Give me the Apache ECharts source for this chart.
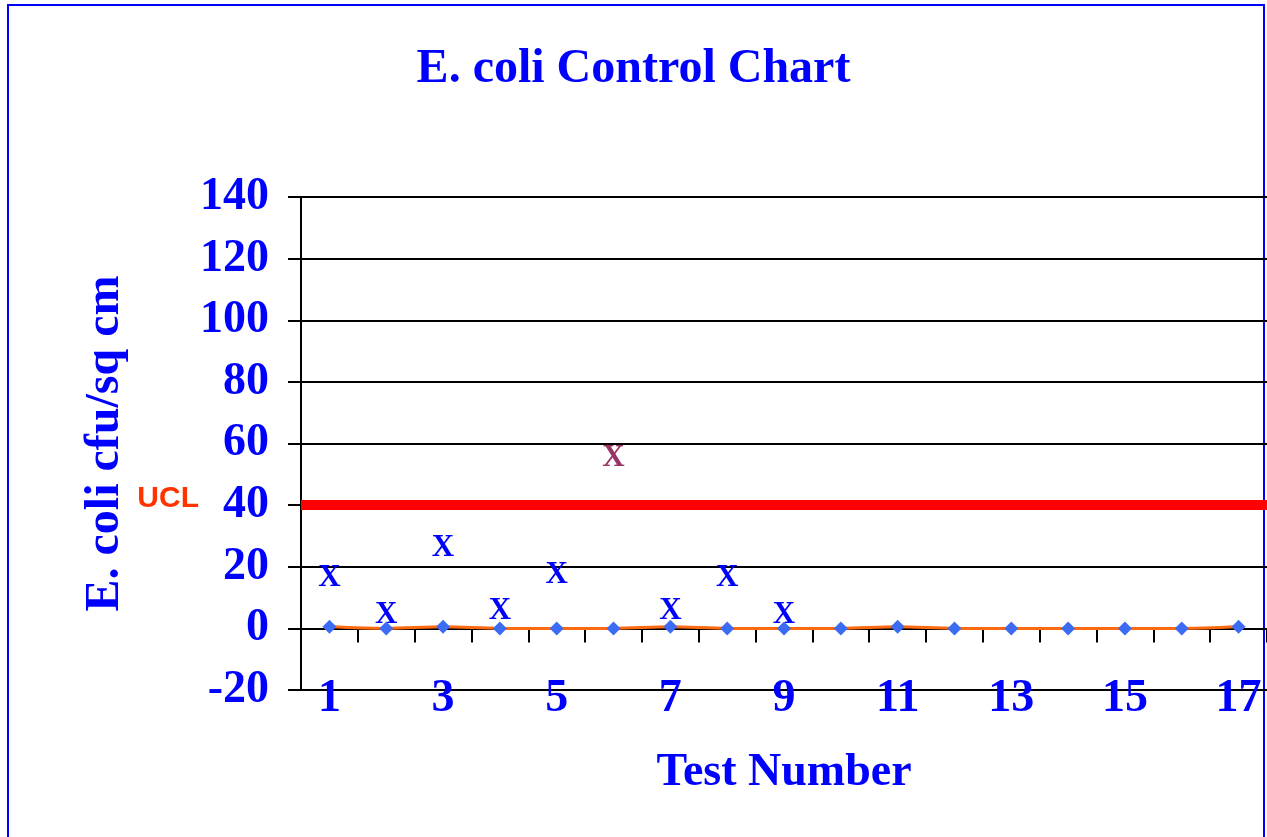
<!DOCTYPE html>
<html>
<head>
<meta charset="utf-8">
<title>E. coli Control Chart</title>
<script src="https://cdn.jsdelivr.net/npm/echarts@6/dist/echarts.min.js"></script>
<style>
  html, body { margin: 0; padding: 0; background: #fff; }
  #chart { width: 1267px; height: 837px; }
</style>
</head>
<body>
<div id="chart"></div>
<script>
// test numbers 1..17
const testNumbers = ['1', '2', '3', '4', '5', '6', '7', '8', '9', '10', '11', '12', '13', '14', '15', '16', '17']
// diamonds sitting on the zero line
const ecoliCounts = [0.5, 0, 0.5, 0, 0, 0, 0.5, 0, 0, 0, 0.5, 0, 0, 0, 0, 0, 0.5]
// "X" marks for the first nine tests
const xMarks = [16.5, 4.4, 26.2, 5.5, 17.4, 55.4, 5.5, 16.5, 4.4]
const uclValue = 40

const serif = '"Liberation Serif", "Times New Roman", serif'
const blue = '#0000ff'

const myChart = echarts.init(document.getElementById('chart'))

const option = {
  animation: false,
  title: {
    text: 'E. coli Control Chart',
    left: 'center',
    top: 46,
    padding: 0,
    textStyle: {
      color: blue,
      fontFamily: serif,
      fontWeight: 'bold',
      fontSize: 48
    }
  },
  graphic: [
    {
      type: 'rect',
      shape: { x: 8, y: 5, width: 1256, height: 850 },
      style: { fill: 'none', stroke: blue, lineWidth: 2 },
      silent: true,
      z: -1
    }
  ],
  grid: {
    left: 301,
    top: 197,
    width: 966,
    height: 493,
    containLabel: false,
    outerBoundsMode: 'none'
  },
  xAxis: {
    type: 'category',
    data: testNumbers,
    boundaryGap: true,
    name: 'Test Number',
    nameLocation: 'middle',
    nameGap: 60,
    nameTextStyle: {
      color: blue,
      fontFamily: serif,
      fontWeight: 'bold',
      fontSize: 46
    },
    axisLine: { onZero: true, lineStyle: { color: '#000', width: 2 } },
    axisTick: { show: true, interval: 0, length: 14, lineStyle: { color: '#000', width: 2 } },
    axisLabel: {
      interval: 1,
      margin: -14,
      color: blue,
      fontFamily: serif,
      fontWeight: 'bold',
      fontSize: 46
    },
    splitLine: { show: false }
  },
  yAxis: {
    type: 'value',
    min: -20,
    max: 140,
    interval: 20,
    name: 'E. coli cfu/sq cm',
    nameLocation: 'middle',
    nameGap: 171,
    nameTextStyle: {
      color: blue,
      fontFamily: serif,
      fontWeight: 'bold',
      fontSize: 48
    },
    axisLine: { show: true, lineStyle: { color: '#000', width: 2 } },
    axisTick: { show: true, length: 13, lineStyle: { color: '#000', width: 2 } },
    axisLabel: {
      margin: 32,
      color: blue,
      fontFamily: serif,
      fontWeight: 'bold',
      fontSize: 46
    },
    splitLine: { show: true, lineStyle: { color: '#000', width: 2 } }
  },
  series: [
    {
      name: 'E. coli',
      type: 'line',
      data: ecoliCounts,
      smooth: 0.3,
      symbol: 'diamond',
      symbolSize: 14,
      lineStyle: { color: '#ff6a10', width: 3 },
      itemStyle: { color: '#3d6cf4' },
      z: 3,
      markLine: {
        silent: true,
        symbol: ['none', 'none'],
        data: [{ yAxis: uclValue }],
        lineStyle: { color: '#ff0000', width: 10, type: 'solid' },
        label: {
          show: true,
          position: 'start',
          distance: 102,
          offset: [0, -6],
          formatter: 'UCL',
          color: '#ff3300',
          fontFamily: '"Liberation Sans", Arial, sans-serif',
          fontWeight: 'bold',
          fontSize: 30
        }
      }
    },
    {
      name: 'X',
      type: 'scatter',
      data: xMarks.map((v, i) => ({
        value: v,
        label: { color: i === 5 ? '#993366' : blue }
      })),
      symbolSize: 1,
      itemStyle: { color: 'rgba(0,0,0,0)', opacity: 1 },
      label: {
        show: true,
        position: 'inside',
        formatter: 'X',
        fontFamily: serif,
        fontWeight: 'bold',
        fontSize: 31
      },
      z: 4
    }
  ]
}

myChart.setOption(option)

window.addEventListener('resize', () => {
  myChart.resize()
})
</script>
</body>
</html>
